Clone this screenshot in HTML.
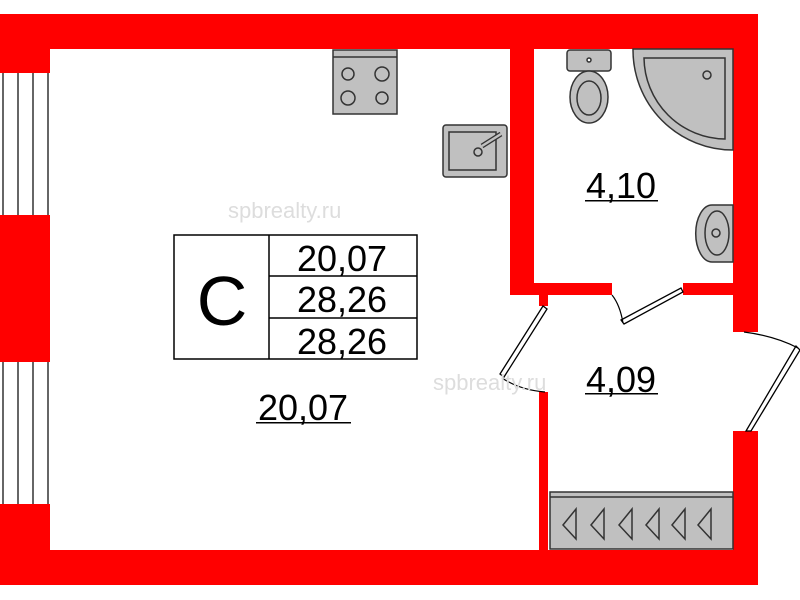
<!DOCTYPE html>
<html><head><style>body{margin:0;background:#fff}svg{display:block}</style></head><body>
<svg width="800" height="600" viewBox="0 0 800 600" xmlns="http://www.w3.org/2000/svg" font-family="Liberation Sans, sans-serif">
<g fill="#ff0000">
<rect x="0" y="14" width="758" height="35"/>
<rect x="0" y="14" width="50" height="59"/>
<rect x="0" y="215" width="50" height="147"/>
<rect x="0" y="504" width="50" height="81"/>
<rect x="0" y="550" width="758" height="35"/>
<rect x="510" y="49" width="24" height="246"/>
<rect x="510" y="283" width="102" height="12"/>
<rect x="683" y="283" width="60" height="12"/>
<rect x="733" y="14" width="25" height="318"/>
<rect x="733" y="431" width="25" height="154"/>
<rect x="539" y="295" width="9" height="11"/>
<rect x="539" y="392" width="9" height="160"/>
</g>
<g stroke="#000" stroke-width="1.2">
<line x1="3" y1="73" x2="3" y2="215"/><line x1="18" y1="73" x2="18" y2="215"/><line x1="33" y1="73" x2="33" y2="215"/><line x1="48" y1="73" x2="48" y2="215"/>
<line x1="3" y1="362" x2="3" y2="504"/><line x1="18" y1="362" x2="18" y2="504"/><line x1="33" y1="362" x2="33" y2="504"/><line x1="48" y1="362" x2="48" y2="504"/>
</g>
<g stroke="#333" stroke-width="1.5" fill="#c0c0c0">
<rect x="333" y="50" width="64" height="64"/>
<line x1="333" y1="57" x2="397" y2="57"/>
<circle cx="348" cy="74" r="6"/><circle cx="382" cy="74" r="7"/><circle cx="348" cy="98" r="7"/><circle cx="382" cy="98" r="6"/>
<rect x="443" y="125" width="64" height="52" rx="3"/>
<rect x="449" y="132" width="47" height="38"/>
<circle cx="478" cy="152" r="4"/>
<line x1="482" y1="146" x2="501" y2="134" stroke-width="5" stroke="#333"/>
<line x1="482" y1="146" x2="501" y2="134" stroke-width="2.5" stroke="#c0c0c0"/>
<rect x="567" y="50" width="44" height="21" rx="3"/>
<circle cx="589" cy="60" r="2" fill="#fff"/>
<ellipse cx="589" cy="97" rx="19" ry="26"/>
<ellipse cx="589" cy="98" rx="12" ry="17"/>
<path d="M733 49 L633 49 A100 100 0 0 0 733 150 Z"/>
<path d="M725 58 L644 58 A82 82 0 0 0 725 139 Z"/>
<circle cx="707" cy="75" r="4"/>
<path d="M733 205 L712 205 A16 28 0 0 0 712 262 L733 262 Z"/>
<ellipse cx="717" cy="233" rx="12" ry="22"/>
<circle cx="716" cy="233" r="4"/>
<rect x="550" y="492" width="183" height="57"/>
<line x1="550" y1="497" x2="733" y2="497"/>
</g>
<g fill="none" stroke="#333" stroke-width="1.5">
<path d="M563 525 l13 -16 l0 30 z M591 525 l13 -16 l0 30 z M619 525 l13 -16 l0 30 z M646 525 l13 -16 l0 30 z M672 525 l13 -16 l0 30 z M698 525 l13 -16 l0 30 z"/>
</g>
<g fill="#fff" stroke="#000" stroke-width="1.3">
<polygon points="621,320 681,288 683,292 624,324"/>
<polygon points="543,306 500,374 504,377 547,309"/>
<polygon points="796,346 746,431 751,431 800,350"/>
</g>
<g fill="none" stroke="#000" stroke-width="1.2">
<path d="M612 295 Q620 305 623 323"/>
<path d="M502 378 Q520 390 545 392"/>
<path d="M744 332 Q775 336 798 348"/>
</g>
<text x="228" y="218" font-size="22" fill="#ddd">spbrealty.ru</text>
<text x="433" y="390" font-size="22" fill="#ddd">spbrealty.ru</text>
<g stroke="#000" stroke-width="1.5" fill="none">
<rect x="174" y="235" width="243" height="124"/>
<line x1="269" y1="235" x2="269" y2="359"/>
<line x1="269" y1="276" x2="417" y2="276"/>
<line x1="269" y1="318" x2="417" y2="318"/>
</g>
<g fill="#000">
<text x="222" y="325" font-size="70" text-anchor="middle">C</text>
<text x="342" y="271" font-size="36" text-anchor="middle">20,07</text>
<text x="342" y="312" font-size="36" text-anchor="middle">28,26</text>
<text x="342" y="354" font-size="36" text-anchor="middle">28,26</text>
<text x="621" y="198" font-size="36" text-anchor="middle">4,10</text>
<text x="621" y="392" font-size="36" text-anchor="middle">4,09</text>
<text x="303" y="420" font-size="36" text-anchor="middle">20,07</text>
<rect x="585" y="200" width="73" height="1.5"/>
<rect x="585" y="393" width="73" height="1.5"/>
<rect x="256" y="422" width="95" height="1.5"/>
</g>
</svg>
</body></html>
